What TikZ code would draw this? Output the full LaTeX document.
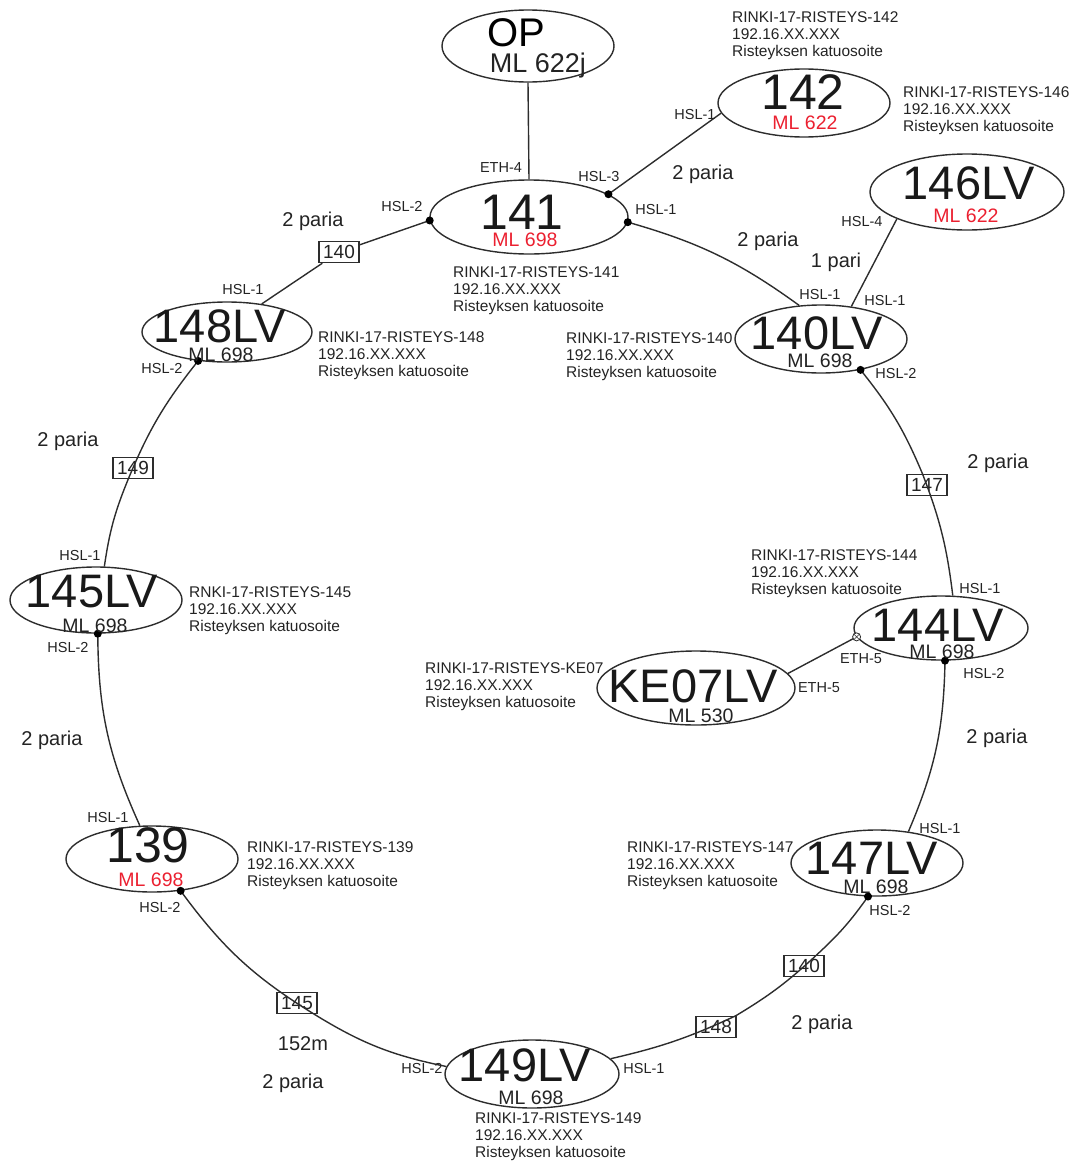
\documentclass[tikz,border=0pt]{standalone}
\usepackage{fontspec}
\setmainfont{Liberation Sans}
\usetikzlibrary{shapes.geometric}
\definecolor{mlred}{RGB}{235,32,48}
\definecolor{txt}{RGB}{35,35,35}
\definecolor{lin}{RGB}{45,45,45}
\begin{document}
\begin{tikzpicture}[x=1pt,y=-1pt,
 ell/.style={draw=lin, ellipse, inner sep=0pt, line width=1.4pt},
 link/.style={line width=1.4pt, draw=lin},
 bigl/.style={font=\fontsize{47}{47}\selectfont, anchor=base, inner sep=0pt, text=black!90},
 bign/.style={font=\fontsize{50}{50}\selectfont, anchor=base, inner sep=0pt, text=black!90},
 ml/.style={font=\fontsize{19.5}{19.5}\selectfont, anchor=base, inner sep=0pt, text=txt},
 port/.style={font=\fontsize{14.5}{14.5}\selectfont, inner sep=0pt, text=txt},
 info/.style={font=\fontsize{15.5}{17.3}\selectfont, align=left, anchor=north west, inner sep=0pt, text=txt},
 pairs/.style={font=\fontsize{20}{20}\selectfont, inner sep=0pt, text=txt},
 cab/.style={draw=lin, line width=1.4pt, fill=white, font=\fontsize{19}{19}\selectfont, inner sep=1pt, minimum width=40, minimum height=21, text=txt},
 dot/.style={circle, fill=black, inner sep=0pt, minimum size=8},
]
\useasboundingbox (0,0) rectangle (1082,1162);

% ellipses
\node[ell, minimum width=172, minimum height=72] (op) at (528,46) {};
\node[ell, minimum width=198, minimum height=74] (n141) at (529,217) {};
\node[ell, minimum width=172, minimum height=68] (n142) at (804,103) {};
\node[ell, minimum width=194, minimum height=76] (n146) at (967,192) {};
\node[ell, minimum width=172, minimum height=68] (n140) at (821,339) {};
\node[ell, minimum width=170, minimum height=60] (n148) at (227,332) {};
\node[ell, minimum width=172, minimum height=66] (n145) at (96,600) {};
\node[ell, minimum width=174, minimum height=64] (n144) at (941,628) {};
\node[ell, minimum width=198, minimum height=74] (nke) at (696,688) {};
\node[ell, minimum width=172, minimum height=66] (n139) at (152,859) {};
\node[ell, minimum width=172, minimum height=66] (n147) at (877,863) {};
\node[ell, minimum width=174, minimum height=68] (n149) at (532,1074) {};

% cable boxes
\node[cab] (c140a) at (339,252) {140};
\node[cab] (c149) at (133,468) {149};
\node[cab] (c147) at (927,485) {147};
\node[cab] (c145) at (297,1003) {145};
\node[cab] (c148) at (716,1027) {148};
\node[cab] (c140b) at (804,966) {140};

% connectors
\draw[link] (op.south) -- (n141.north);
\draw[link] (n141.16) -- (n142.187);
\draw[link] (n141.182) -- (c140a) -- (n148.39);
\draw[link] (n141.357) to[bend left=10] (n140.123);
\draw[link] (n146.201) -- (n140.47);
\draw[link] (n140.322) to[bend left=8] (c147) to[bend left=7] (n144.70);
\draw[link] (n144.277) to[bend left=11] (n147.45);
\draw[link] (n147.255) to[bend left=6] (c140b) to[bend left=6] (c148) to[bend left=6] (n149.11);
\draw[link] (n149.175) to[bend left=10] (c145) to[bend left=11] (n139.312);
\draw[link] (n139.110) to[bend left=12] (n145.273);
\draw[link] (n145.76) to[bend left=7] (c149) to[bend left=8] (n148.225);
\draw[link] (n144.186) -- (nke.9);

% dots
\node[dot] (d1) at (n141.182) {};
\node[dot] (d2) at (n141.16) {};
\node[dot] (d3) at (n141.357) {};
\node[dot] (d4) at (n140.322) {};
\node[dot] (d5) at (n148.225) {};
\node[dot] (d6) at (n145.273) {};
\node[dot] (d7) at (n144.277) {};
\node[dot] (d8) at (n147.255) {};
\node[dot] (d9) at (n139.312) {};
\node[circle, draw=lin, line width=0.8pt, fill=white, inner sep=0pt, minimum size=8] (oc) at (n144.186) {};
\draw[line width=0.6pt, lin] (oc.45) -- (oc.225) (oc.135) -- (oc.315);

% ellipse texts
\node[font=\fontsize{40}{40}\selectfont, anchor=base, inner sep=0pt] (t-op) at (516,46) {OP};
\node[font=\fontsize{27}{27}\selectfont, anchor=base, inner sep=0pt, text=txt] (m-op) at (538,72) {ML 622j};
\node[bign] (t141) at (522,229) {141};
\node[ml, text=mlred] (m141) at (525,246) {ML 698};
\node[bign] (t142) at (803,109) {142};
\node[ml, text=mlred] (m142) at (805,129) {ML 622};
\node[bigl] (t146) at (969,199) {146LV};
\node[ml, text=mlred] (m146) at (966,222) {ML 622};
\node[bigl] (t140) at (817,349) {140LV};
\node[ml] (m140) at (820,367) {ML 698};
\node[bigl] (t148) at (220,342) {148LV};
\node[ml] (m148) at (221,361) {ML 698};
\node[bigl] (t145) at (92,607) {145LV};
\node[ml] (m145) at (95,632) {ML 698};
\node[bigl] (t144) at (938,641) {144LV};
\node[ml] (m144) at (942,658) {ML 698};
\node[bigl] (tke) at (693,702) {KE07LV};
\node[ml] (mke) at (701,722) {ML 530};
\node[bign] (t139) at (148,862) {139};
\node[ml, text=mlred] (m139) at (151,886) {ML 698};
\node[bigl] (t147) at (872,874) {147LV};
\node[ml] (m147) at (876,893) {ML 698};
\node[bigl] (t149) at (525,1081) {149LV};
\node[ml] (m149) at (531,1104) {ML 698};

% info blocks
\node[info] (i142) at (732,11) {RINKI-17-RISTEYS-142\\192.16.XX.XXX\\Risteyksen katuosoite};
\node[info] (i146) at (903,86) {RINKI-17-RISTEYS-146\\192.16.XX.XXX\\Risteyksen katuosoite};
\node[info] (i141) at (453,266) {RINKI-17-RISTEYS-141\\192.16.XX.XXX\\Risteyksen katuosoite};
\node[info] (i148) at (318,331) {RINKI-17-RISTEYS-148\\192.16.XX.XXX\\Risteyksen katuosoite};
\node[info] (i140) at (566,332) {RINKI-17-RISTEYS-140\\192.16.XX.XXX\\Risteyksen katuosoite};
\node[info] (i145) at (189,586) {RNKI-17-RISTEYS-145\\192.16.XX.XXX\\Risteyksen katuosoite};
\node[info] (i144) at (751,549) {RINKI-17-RISTEYS-144\\192.16.XX.XXX\\Risteyksen katuosoite};
\node[info] (ike) at (425,662) {RINKI-17-RISTEYS-KE07\\192.16.XX.XXX\\Risteyksen katuosoite};
\node[info] (i139) at (247,841) {RINKI-17-RISTEYS-139\\192.16.XX.XXX\\Risteyksen katuosoite};
\node[info] (i147) at (627,841) {RINKI-17-RISTEYS-147\\192.16.XX.XXX\\Risteyksen katuosoite};
\node[info] (i149) at (475,1112) {RINKI-17-RISTEYS-149\\192.16.XX.XXX\\Risteyksen katuosoite};

% port labels
\node[port] (p1) at (501,168) {ETH-4};
\node[port] (p2) at (599,177) {HSL-3};
\node[port] (p3) at (656,210) {HSL-1};
\node[port] (p4) at (402,207) {HSL-2};
\node[port] (p5) at (695,115) {HSL-1};
\node[port] (p6) at (862,222) {HSL-4};
\node[port] (p7) at (820,295) {HSL-1};
\node[port] (p8) at (885,301) {HSL-1};
\node[port] (p9) at (896,374) {HSL-2};
\node[port] (p10) at (243,290) {HSL-1};
\node[port] (p11) at (162,369) {HSL-2};
\node[port] (p12) at (80,556) {HSL-1};
\node[port] (p13) at (68,648) {HSL-2};
\node[port] (p14) at (980,589) {HSL-1};
\node[port] (p15) at (861,659) {ETH-5};
\node[port] (p16) at (819,688) {ETH-5};
\node[port] (p17) at (984,673) {HSL-2};
\node[port] (p18) at (940,828) {HSL-1};
\node[port] (p19) at (890,910) {HSL-2};
\node[port] (p20) at (108,817) {HSL-1};
\node[port] (p21) at (160,907) {HSL-2};
\node[port] (p22) at (422,1068) {HSL-2};
\node[port] (p23) at (644,1068) {HSL-1};

% pair labels
\node[pairs] (q1) at (703,174) {2 paria};
\node[pairs] (q2) at (313,221) {2 paria};
\node[pairs] (q3) at (768,241) {2 paria};
\node[pairs] (q4) at (836,262) {1 pari};
\node[pairs] (q5) at (68,441) {2 paria};
\node[pairs] (q6) at (998,463) {2 paria};
\node[pairs] (q7) at (52,740) {2 paria};
\node[pairs] (q8) at (997,738) {2 paria};
\node[pairs] (q9) at (303,1044) {152m};
\node[pairs] (q10) at (293,1083) {2 paria};
\node[pairs] (q11) at (822,1024) {2 paria};
\end{tikzpicture}
\end{document}
